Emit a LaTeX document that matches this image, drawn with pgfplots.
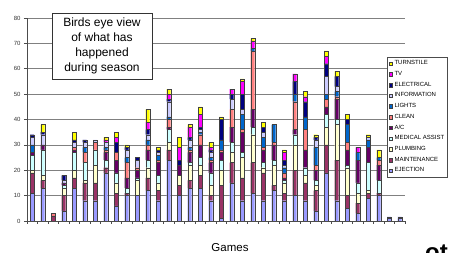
\documentclass[border=0pt]{standalone}
\usepackage{fontspec}
\setmainfont{Liberation Sans}
\usepackage{pgfplots}
\usepackage{pgfplotstable}
\pgfplotsset{compat=1.18}
\definecolor{cEJ}{HTML}{9999FF}
\definecolor{cMA}{HTML}{993366}
\definecolor{cPL}{HTML}{FFFFCC}
\definecolor{cMED}{HTML}{CCFFFF}
\definecolor{cAC}{HTML}{660066}
\definecolor{cCL}{HTML}{FF8080}
\definecolor{cLI}{HTML}{0066CC}
\definecolor{cINFO}{HTML}{CCCCFF}
\definecolor{cEL}{HTML}{000080}
\definecolor{cTV}{HTML}{FF00FF}
\definecolor{cTU}{HTML}{FFFF00}
\pgfplotstableread{
g EJ MA PL MED AC CL LI INFO EL TV TU
1 11 8 1 6 1 0 3 3 1 0 0
2 13 3 2 10 2 0 0 4 1 0 3
3 0 2 0 0 0 1 0 0 0 0 0
4 4 6 3 1 1 0 0 1 2 0 0
5 13 4 3 7 1 1 0 2 1 0 3
6 8 7 1 7 0 4 2 2 1 0 0
7 8 7 7 6 0 3 0 1 0 0 0
8 19 2 0 3 3 1 1 2 0 1 1
9 6 5 4 4 5 3 0 0 4 2 2
10 10 1 0 2 4 6 2 3 1 0 1
11 10 0 6 1 3 1 0 3 1 0 0
12 12 5 4 3 4 2 2 2 2 3 5
13 8 4 3 3 5 1 2 1 1 0 1
14 24 4 3 5 1 3 1 6 1 2 2
15 10 4 4 0 4 0 0 0 2 5 4
16 13 3 6 1 4 1 1 3 1 4 1
17 13 5 4 3 5 4 1 1 1 5 3
18 8 2 4 5 4 1 1 2 1 1 2
19 1 13 6 4 3 1 4 0 8 0 1
20 15 8 4 4 6 7 0 4 2 2 0
21 8 9 8 2 8 1 6 2 6 5 1
22 11 12 11 3 7 23 1 0 0 3 1
23 8 11 2 2 5 1 4 2 2 0 2
24 12 2 8 2 6 1 7 0 0 0 0
25 8 3 4 1 1 2 2 1 2 3 1
26 10 10 10 4 2 11 3 0 5 3 0
27 8 7 3 3 7 8 5 0 6 2 2
28 4 8 2 2 4 2 7 3 1 0 1
29 19 11 7 5 3 3 2 7 5 3 2
30 8 16 14 2 8 1 2 2 4 0 2
31 5 5 11 1 6 3 7 0 2 0 2
32 3 4 4 4 9 0 3 0 0 2 0
33 9 2 1 11 6 0 3 1 0 0 1
34 10 1 0 5 6 2 1 0 0 0 3
35 1 0 0 0 0 0 0 0.7 0 0 0
36 1 0 0 0 0 0 0 0.7 0 0 0
}\games
\begin{document}
\begin{tikzpicture}[x=1pt,y=1pt]
\useasboundingbox (0,0) rectangle (450,253);
\begin{axis}[
  at={(27pt,32pt)}, anchor=south west,
  scale only axis, width=378pt, height=203pt,
  ybar stacked, bar width=4pt,
  xmin=0.5, xmax=36.5, ymin=0, ymax=80,
  ytick={0,10,...,80},
  xtick={0.5,1.5,...,36.5}, xticklabels={},
  ymajorgrids, major grid style={black!50, line width=0.7pt},
  axis x line*=bottom, axis y line*=left,
  axis line style={-, black!70, line width=0.6pt},
  tick align=outside, major tick length=3pt,
  tick style={black!70, line width=0.5pt},
  yticklabel style={font=\fontsize{6}{6}\selectfont, color=black!80},
  /pgf/number format/assume math mode=true,
  reverse legend,
  legend cell align=left,
  legend image code/.code={\draw[#1, line width=0.3pt] (0pt,-1.8pt) rectangle (3.6pt,1.8pt);},
  legend style={at={(0.952,0.808)}, anchor=north west, draw=black!70, line width=0.5pt,
    fill=white, font=\fontsize{6}{7}\selectfont, inner sep=1.5pt, row sep=1pt,
    /tikz/every even column/.append style={column sep=0pt}},
  every axis plot/.append style={draw=black!75, line width=0.3pt},
]
\addplot[fill=cEJ] table[x=g,y=EJ]{\games};
\addplot[fill=cMA] table[x=g,y=MA]{\games};
\addplot[fill=cPL] table[x=g,y=PL]{\games};
\addplot[fill=cMED] table[x=g,y=MED]{\games};
\addplot[fill=cAC] table[x=g,y=AC]{\games};
\addplot[fill=cCL] table[x=g,y=CL]{\games};
\addplot[fill=cLI] table[x=g,y=LI]{\games};
\addplot[fill=cINFO] table[x=g,y=INFO]{\games};
\addplot[fill=cEL] table[x=g,y=EL]{\games};
\addplot[fill=cTV] table[x=g,y=TV]{\games};
\addplot[fill=cTU] table[x=g,y=TU]{\games};
\legend{EJECTION,MAINTENANCE,PLUMBING,MEDICAL ASSIST,A/C,CLEAN,LIGHTS,INFORMATION,ELECTRICAL,TV,TURNSTILE}
\end{axis}
\node[draw=black!80, fill=white, line width=0.6pt, minimum width=100pt, minimum height=66pt,
  align=center, font=\fontsize{12}{15}\selectfont, inner sep=0pt] at (102,207)
  {Birds eye view\\of what has\\happened\\during season};
\node[font=\fontsize{11.5}{12}\selectfont] at (230,5.5) {Games};
\node[anchor=north west, inner sep=0pt, font=\fontsize{24}{24}\selectfont\bfseries] at (425,8.5) {ot};
\end{tikzpicture}
\end{document}
